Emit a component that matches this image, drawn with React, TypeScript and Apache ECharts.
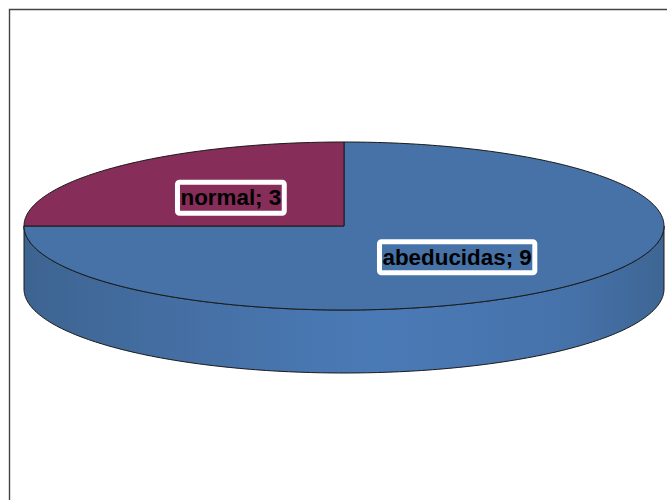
import React, { useEffect, useRef } from "react";
import * as echarts from "echarts";

const categories = ["abeducidas", "normal"];
const values = [9, 3];
const sliceColors = ["#4672a8", "#862d59"];

// Ellipse geometry of the tilted disc
const CX = 344;
const CY = 226;
const RX = 320;
const RY = 84;
const DEPTH = 63;
const STEP = Math.PI / 180;

const total = values.reduce((a, b) => a + b, 0);

// Angles run clockwise from twelve o'clock
const rim = (a: number, drop = 0): number[] => [
  CX + RX * Math.sin(a),
  CY - RY * Math.cos(a) + drop,
];

const arcPoints = (from: number, to: number, drop = 0): number[][] => {
  const pts: number[][] = [];
  const n = Math.max(2, Math.ceil((to - from) / STEP));
  for (let i = 0; i <= n; i++) pts.push(rim(from + ((to - from) * i) / n, drop));
  return pts;
};

const wallFill = new echarts.graphic.LinearGradient(
  CX - RX, 0, CX + RX, 0,
  [
    { offset: 0, color: "#3d6491" },
    { offset: 0.25, color: "#456fa4" },
    { offset: 0.55, color: "#4a7ab6" },
    { offset: 0.85, color: "#4672aa" },
    { offset: 1, color: "#3e6694" },
  ],
  true,
);

const renderSlice = (params: any, api: any) => {
  const i = params.dataIndex;
  const before = values.slice(0, i).reduce((a, b) => a + b, 0);
  const start = (before / total) * Math.PI * 2;
  const end = ((before + api.value(0)) / total) * Math.PI * 2;
  const mid = (start + end) / 2;
  const children: any[] = [];

  // Visible wall: the part of the rim on the near half of the disc
  const wallFrom = Math.max(start, Math.PI / 2);
  const wallTo = Math.min(end, (Math.PI * 3) / 2);
  if (wallTo > wallFrom) {
    children.push({
      type: "polygon",
      shape: {
        points: [...arcPoints(wallFrom, wallTo), ...arcPoints(wallFrom, wallTo, DEPTH).reverse()],
      },
      style: { fill: wallFill, stroke: "#1a1a1a", lineWidth: 1 },
    });
  }

  children.push({
    type: "polygon",
    shape: { points: [[CX, CY], ...arcPoints(start, end)] },
    style: { fill: sliceColors[i], stroke: "#1a1a1a", lineWidth: 1, lineJoin: "round" },
  });

  children.push({
    type: "text",
    z2: 10,
    style: {
      x: CX + RX * 0.5 * Math.sin(mid),
      y: CY - RY * 0.5 * Math.cos(mid) + 1.5,
      text: `${categories[i]}; ${api.value(0)}`,
      align: "center",
      verticalAlign: "middle",
      font: 'bold 22.4px "Liberation Sans", Arial, sans-serif',
      fill: "#000000",
      borderColor: "#ffffff",
      borderWidth: 5,
      borderRadius: 2,
      padding: [5, 3, 4, 3],
    },
  });

  return { type: "group", children };
};

export default function App() {
  const ref = useRef<HTMLDivElement>(null);

  useEffect(() => {
    const chart = echarts.init(ref.current!, undefined, { renderer: "svg" });
    chart.setOption({
      animation: false,
      backgroundColor: "#ffffff",
      graphic: [
        {
          type: "rect",
          silent: true,
          shape: { x: 9.5, y: 9.5, width: 720, height: 560 },
          style: { fill: "none", stroke: "#444444", lineWidth: 1.4 },
        },
      ],
      series: [
        {
          type: "custom",
          coordinateSystem: "none",
          silent: true,
          data: values.map((v, i) => ({ name: categories[i], value: [v] })),
          renderItem: renderSlice,
        },
      ],
    });
    return () => chart.dispose();
  }, []);

  return (
    <div
      ref={ref}
      style={{ position: "fixed", left: 0, top: 0, width: 667, height: 500 }}
    />
  );
}
